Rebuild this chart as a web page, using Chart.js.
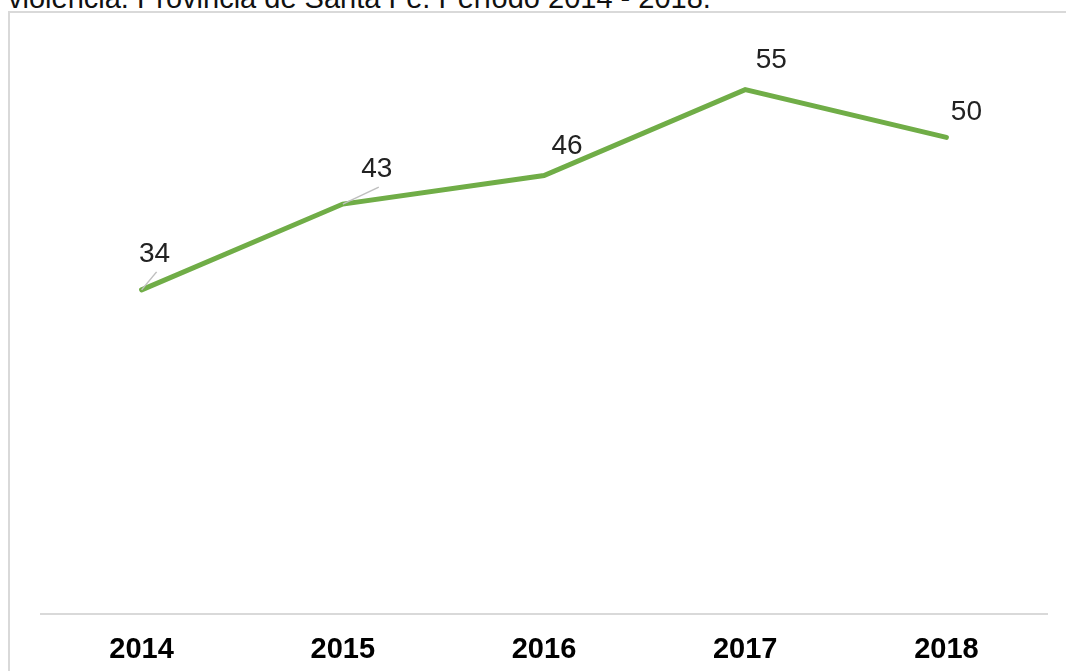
<!DOCTYPE html>
<html>
<head>
<meta charset="utf-8">
<script src="https://cdn.jsdelivr.net/npm/chart.js@4"></script>
<style>
  body { margin: 0; background: #fff; width: 1066px; height: 671px; overflow: hidden; position: relative; font-family: "Liberation Sans", Arial, sans-serif; }
  #caption { position: absolute; left: 8px; top: -16px; font-size: 29px; line-height: 1; color: #111; white-space: nowrap; }
  #frame { position: absolute; left: 8px; top: 11px; width: 1100px; height: 700px; border-left: 2px solid #d9d9d9; border-top: 2px solid #d9d9d9; }
  #wrap { position: absolute; left: 0; top: 0; width: 1066px; height: 671px; }
</style>
</head>
<body>
<div id="caption">violencia. Provincia de Santa Fe. Período 2014 - 2018.</div>
<div id="frame"></div>
<div id="wrap"><canvas id="chart"></canvas></div>
<script>
const years = ['2014', '2015', '2016', '2017', '2018'];
const values = [34, 43, 46, 55, 50];

// label offset from each point (px), and whether a leader line is drawn
const labelDx = [13, 34, 23, 26, 20];
const labelDy = [-36, -35, -29, -29, -25];
const leader = [true, true, false, false, false];

const pointLabels = {
    id: 'pointLabels',
    afterDatasetsDraw(chart) {
        const ctx = chart.ctx;
        const meta = chart.getDatasetMeta(0);
        ctx.save();
        ctx.font = '28px "Liberation Sans", Arial, sans-serif';
        ctx.fillStyle = '#222';
        ctx.textAlign = 'center';
        ctx.textBaseline = 'middle';
        meta.data.forEach(function (pt, i) {
            const lx = pt.x + labelDx[i];
            const ly = pt.y + labelDy[i];
            if (leader[i]) {
                ctx.strokeStyle = '#bfbfbf';
                ctx.lineWidth = 1.5;
                ctx.beginPath();
                ctx.moveTo(pt.x, pt.y);
                ctx.lineTo(lx + 2, ly + 18);
                ctx.stroke();
            }
            ctx.fillText(values[i], lx, ly);
        });
        ctx.restore();
    }
};

new Chart(document.getElementById('chart'), {
    type: 'line',
    data: {
        labels: years,
        datasets: [{
            data: values,
            borderColor: '#70AD47',
            borderWidth: 5,
            pointRadius: 0,
            tension: 0,
            borderCapStyle: 'round'
        }]
    },
    options: {
        responsive: true,
        maintainAspectRatio: false,
        animation: false,
        layout: {
            padding: { left: 41, right: 19, top: 42, bottom: 0 }
        },
        plugins: {
            legend: { display: false },
            tooltip: { enabled: false }
        },
        scales: {
            y: {
                display: false,
                min: 0,
                max: 60
            },
            x: {
                offset: true,
                afterFit(scale) { scale.height = 57; },
                grid: { display: false, drawTicks: false },
                border: { display: true, color: '#d9d9d9', width: 2 },
                ticks: {
                    padding: 19,
                    color: '#000',
                    font: { family: '"Liberation Sans", Arial, sans-serif', size: 29, weight: 'bold' }
                }
            }
        }
    },
    plugins: [pointLabels]
});
</script>
</body>
</html>
